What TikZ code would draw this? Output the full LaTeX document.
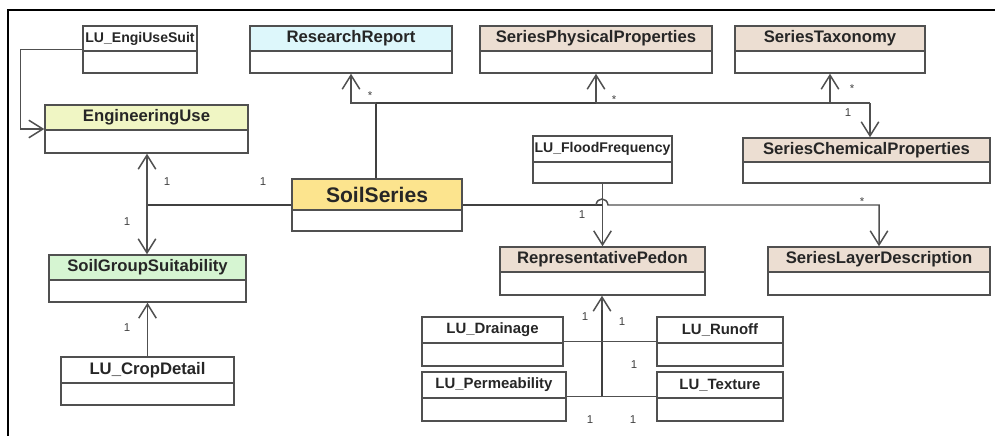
\documentclass[tikz,border=0pt]{standalone}
\usepackage{fontspec}
\setmainfont{Liberation Sans}
\usetikzlibrary{arrows.meta,fit,calc}

\definecolor{hdrcyan}{RGB}{221,247,251}
\definecolor{hdrbeige}{RGB}{236,222,210}
\definecolor{hdrlime}{RGB}{240,246,196}
\definecolor{hdrgreen}{RGB}{214,245,210}
\definecolor{hdrgold}{RGB}{252,228,142}
\definecolor{umlgray}{RGB}{80,80,80}

\tikzset{
  classbox/.style={draw=umlgray, line width=0.85pt, inner sep=0pt},
  classline/.style={draw=umlgray, line width=0.85pt},
  classname/.style={font=\bfseries\fontsize{9.5}{11}\selectfont, text=black!85, inner sep=0pt},
  line/.style={draw=umlgray, line width=0.85pt},
  thickline/.style={draw=black!75, line width=1.4pt},
  assoc/.style={line, -{Straight Barb[length=8pt,width=10pt]}},
  mult/.style={font=\fontsize{6.5}{7}\selectfont, text=black!75, inner sep=0pt}
}

% fill, name, x1, y1, x2, y2, divider y, title
\newcommand{\umlclass}[8]{%
  \fill[#1] (#3,#4) rectangle (#5,#7);
  \node[classbox, fit={(#3,#4) (#5,#6)}] (#2) {};
  \draw[classline] (#3,#7) -- (#5,#7);
  \node[classname] (#2t) at ({(#3+#5)/2},{(#4+#7)/2}) {#8};
}

\begin{document}
\begin{tikzpicture}[x=0.02cm, y=-0.02cm]
      \useasboundingbox (0,0) rectangle (995,436);

      % Frame
      \draw[line width=1.2pt] (8,436) -- (8,10) -- (995,10);

      % Classes, top row
      \umlclass{white}{eus}{83}{26}{197}{73}{51}{\fontsize{8}{9}\selectfont LU\_EngiUseSuit}
      \umlclass{hdrcyan}{rr}{250}{26}{452}{73}{51}{ResearchReport}
      \umlclass{hdrbeige}{spp}{480}{26}{712}{73}{51}{SeriesPhysicalProperties}
      \umlclass{hdrbeige}{stx}{735}{26}{925}{73}{51}{SeriesTaxonomy}

      % Classes, middle
      \umlclass{hdrlime}{eu}{45}{105}{248}{153}{130}{EngineeringUse}
      \umlclass{hdrbeige}{scp}{743}{138}{990}{183}{162}{SeriesChemicalProperties}
      \umlclass{white}{lff}{533}{136}{672}{183}{162}{\fontsize{8}{9}\selectfont LU\_FloodFrequency}
      \umlclass{hdrgold}{ss}{292}{179}{462}{231}{210}{\fontsize{12}{14}\selectfont SoilSeries}
      \umlclass{hdrgreen}{sgs}{49}{255}{246}{302}{280}{SoilGroupSuitability}
      \umlclass{hdrbeige}{rp}{500}{247}{705}{295}{272}{RepresentativePedon}
      \umlclass{hdrbeige}{sld}{768}{247}{990}{295}{272}{SeriesLayerDescription}

      % Classes, bottom
      \umlclass{white}{lcd}{61}{357}{234}{405}{383}{LU\_CropDetail}
      \umlclass{white}{ldr}{422}{317}{563}{366}{343}{\fontsize{8.5}{10}\selectfont LU\_Drainage}
      \umlclass{white}{lru}{657}{317}{783}{366}{343}{\fontsize{8.5}{10}\selectfont LU\_Runoff}
      \umlclass{white}{lpe}{422}{372}{566}{421}{398}{\fontsize{8.5}{10}\selectfont LU\_Permeability}
      \umlclass{white}{ltx}{657}{372}{783}{421}{398}{\fontsize{8.5}{10}\selectfont LU\_Texture}

      % Junctions
      \coordinate (j1) at (147,205);
      \coordinate (j2) at (376,103);
      \coordinate (j3) at (870,103);
      \coordinate (j4) at (602,205);
      \coordinate (j6) at (602,397);

      % EngiUseSuit to EngineeringUse
      \draw[assoc] (eus.west) -- ++(-62,0) |- (eu.west);

      % SoilSeries, left side
      \draw[thickline] (ss.west) -- (j1);
      \draw[assoc] (j1) -- (j1 |- eu.south);
      \draw[assoc] (j1) -- (j1 |- sgs.north);
      \draw[assoc] (lcd.north) -- (lcd.north |- sgs.south);

      % SoilSeries, top side
      \draw[thickline] (j2 |- ss.north) -- (j2);
      \draw[assoc] (j2) -| (rr.south);
      \draw[thickline] (j2) -- (spp.south |- j2);
      \draw[assoc] (spp.south |- j2) -- (spp.south);
      \draw[line] (spp.south |- j2) -- (j3);
      \draw[assoc] (stx.south |- j3) -- (stx.south);
      \draw[assoc] (j3) -- (j3 |- scp.north);

      % SoilSeries, right side
      \draw[thickline] (ss.east) -- (j4);
      \draw[assoc] (lff.south) -- (lff.south |- rp.north);
      \draw[assoc] (596,205) .. controls (597,197) and (607,197) .. (608,205)
        -| (sld.north);

      % Lookups under RepresentativePedon
      \draw[assoc] (j6) -- (j6 |- rp.south);
      \draw[thickline] (j6) -- (602,310);
      \draw[line] (ldr.east) -- (lru.west);
      \draw[line] (lpe.east) -- (ltx.west);

      % Multiplicities
      \foreach \x/\y/\t [count=\i] in {167/182/1, 263/182/1, 127/222/1, 127/328/1,
          370/96/*, 614/100/*, 852/89/*, 848/113/1, 582/215/1, 862/202/*,
          585/317/1, 622/322/1, 634/365/1, 590/420/1, 633/420/1} {
        \node[mult] (m\i) at (\x,\y) {\t};
      }
    \end{tikzpicture}
\end{document}
